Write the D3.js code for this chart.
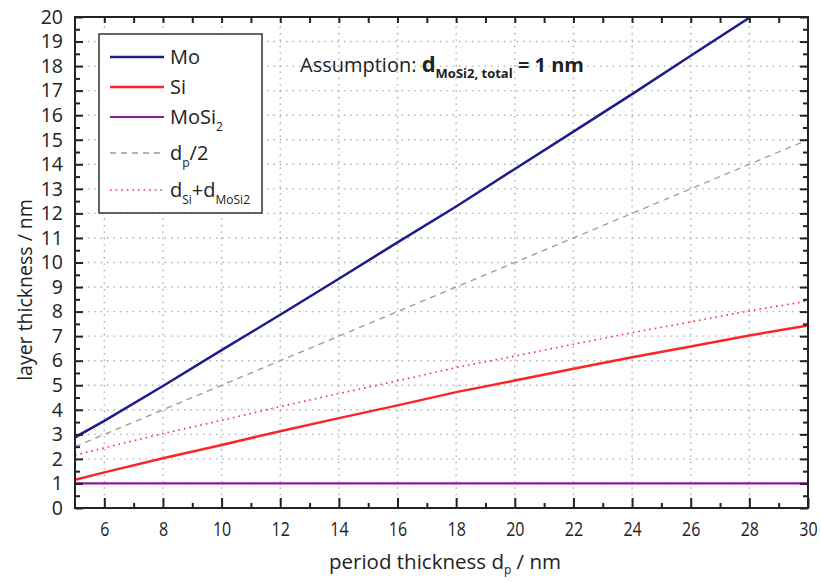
<!DOCTYPE html>
<html>
<head>
<meta charset="utf-8">
<script src="https://cdn.jsdelivr.net/npm/d3@7"></script>
<style>
  body { margin: 0; background: #fff; }
  svg text { font-family: "Open Sans", "Noto Sans", sans-serif; fill: #222; }
</style>
</head>
<body>
<svg id="chart" width="821" height="582"></svg>
<script>
// values: [period thickness, layer thickness]
var moValues = [[5, 2.88], [6, 3.55], [8, 4.97], [10, 6.43], [12, 7.87], [14, 9.34], [16, 10.82],
  [18, 12.28], [20, 13.81], [22, 15.33], [24, 16.86], [26, 18.42], [28, 19.97], [30, 21.57]];
var siValues = [[5, 1.15], [6, 1.45], [8, 2.03], [10, 2.57], [12, 3.13], [14, 3.66], [16, 4.18],
  [18, 4.72], [20, 5.19], [22, 5.67], [24, 6.14], [26, 6.58], [28, 7.03], [30, 7.43]];
var mosi2Values = [[5, 1.0], [30, 1.0]];
var halfPeriod = [[5, 2.5], [30, 15.0]];
var siPlusMosi2 = [[5, 2.15], [6, 2.45], [8, 3.03], [10, 3.57], [12, 4.13], [14, 4.66], [16, 5.18],
  [18, 5.72], [20, 6.19], [22, 6.67], [24, 7.14], [26, 7.58], [28, 8.03], [30, 8.43]];

var xTicks = [6, 8, 10, 12, 14, 16, 18, 20, 22, 24, 26, 28, 30];
var yTicks = d3.range(0, 21);

var series = [
  {name: "Mo", values: moValues, color: "#1c1c8a", width: 2.5, dash: null},
  {name: "Si", values: siValues, color: "#ff2424", width: 2.5, dash: null},
  {name: "MoSi2", values: mosi2Values, color: "#8c1c9c", width: 2.2, dash: null},
  {name: "dp/2", values: halfPeriod, color: "#9a9a9a", width: 1.3, dash: "6,5"},
  {name: "dSi+dMoSi2", values: siPlusMosi2, color: "#ff3030", width: 1.6, dash: "1.6,4"}
];

var svg = d3.select("#chart");
var m = {left: 75, right: 13, top: 17, bottom: 74};
var W = 821, H = 582;

var x = d3.scaleLinear().domain([5, 30]).range([m.left, W - m.right]);
var y = d3.scaleLinear().domain([0, 20]).range([H - m.bottom, m.top]);

svg.append("defs").append("clipPath").attr("id", "clip")
  .append("rect").attr("x", m.left).attr("y", m.top)
  .attr("width", x(30) - x(5)).attr("height", y(0) - y(20));

// grid
var grid = svg.append("g").attr("stroke", "#a8a8a8").attr("stroke-width", 1.4).attr("stroke-dasharray", "1.4,5");
grid.selectAll(".gx").data(xTicks.filter(function(d) { return d < 30; })).enter().append("line")
  .attr("x1", function(d) { return x(d); }).attr("x2", function(d) { return x(d); })
  .attr("y1", y(0)).attr("y2", y(20));
grid.selectAll(".gy").data(yTicks.filter(function(d) { return d > 0 && d < 20; })).enter().append("line")
  .attr("x1", x(5)).attr("x2", x(30))
  .attr("y1", function(d) { return y(d); }).attr("y2", function(d) { return y(d); });

// lines
var line = d3.line().x(function(d) { return x(d[0]); }).y(function(d) { return y(d[1]); });
var plot = svg.append("g").attr("clip-path", "url(#clip)");
series.forEach(function(s) {
  plot.append("path").attr("d", line(s.values)).attr("fill", "none")
    .attr("stroke", s.color).attr("stroke-width", s.width)
    .attr("stroke-dasharray", s.dash);
});

// axes, ticks inward on all sides
var xMinor = d3.range(6, 30);
var yMinor = d3.range(0.5, 20, 1);
var bottom = svg.append("g").attr("transform", "translate(0," + y(0) + ")")
  .call(d3.axisBottom(x).tickValues(xTicks).tickSize(-10).tickPadding(14).tickFormat(d3.format("d")));
svg.append("g").attr("transform", "translate(0," + y(0) + ")")
  .call(d3.axisBottom(x).tickValues(xMinor.filter(function(d) { return d % 2; })).tickSize(-5).tickFormat(""));
svg.append("g").attr("transform", "translate(0," + y(20) + ")")
  .call(d3.axisTop(x).tickValues(xMinor).tickSize(-6).tickFormat(""));
var left = svg.append("g").attr("transform", "translate(" + x(5) + ",0)")
  .call(d3.axisLeft(y).tickValues(yTicks).tickSize(-8).tickPadding(12).tickFormat(d3.format("d")));
svg.append("g").attr("transform", "translate(" + x(5) + ",0)")
  .call(d3.axisLeft(y).tickValues(yMinor).tickSize(-5).tickFormat(""));
svg.append("g").attr("transform", "translate(" + x(30) + ",0)")
  .call(d3.axisRight(y).tickValues(yTicks).tickSize(-8).tickFormat(""));
svg.append("g").attr("transform", "translate(" + x(30) + ",0)")
  .call(d3.axisRight(y).tickValues(yMinor).tickSize(-5).tickFormat(""));
svg.selectAll(".domain").remove();
svg.selectAll(".tick line").attr("stroke", "#222").attr("stroke-width", 2);
bottom.selectAll("text").attr("font-size", 20).attr("fill", "#333").attr("transform", "scale(0.8,1)");
left.selectAll("text").attr("font-size", 19.5).attr("fill", "#333");

svg.append("rect").attr("x", x(5)).attr("y", y(20))
  .attr("width", x(30) - x(5)).attr("height", y(0) - y(20))
  .attr("fill", "none").attr("stroke", "#222").attr("stroke-width", 2);

// axis titles
svg.append("text").attr("x", 445).attr("y", 569).attr("text-anchor", "middle").attr("font-size", 20.5)
  .attr("fill", "#333")
  .html('period thickness d<tspan font-size="12" dy="5">p</tspan><tspan dy="-5"> / nm</tspan>');
svg.append("text").attr("transform", "translate(32,290) rotate(-90)")
  .attr("text-anchor", "middle").attr("font-size", 19.5).attr("fill", "#333").text("layer thickness / nm");

// legend
var legend = svg.append("g");
legend.append("rect").attr("x", 99).attr("y", 34).attr("width", 163).attr("height", 179)
  .attr("fill", "#fff").attr("stroke", "#333").attr("stroke-width", 1.5);
var legendY = [57, 87, 117, 153, 190];
var legendLabels = [
  'Mo',
  'Si',
  'MoSi<tspan font-size="12" dy="7">2</tspan>',
  'd<tspan font-size="12" dy="7">p</tspan><tspan dy="-7">/2</tspan>',
  'd<tspan font-size="12" dy="7">Si</tspan><tspan dy="-7">+d</tspan><tspan font-size="12" dy="7">MoSi2</tspan>'
];
series.forEach(function(s, i) {
  legend.append("line").attr("x1", 110).attr("x2", 164)
    .attr("y1", legendY[i]).attr("y2", legendY[i])
    .attr("stroke", s.color).attr("stroke-width", s.width).attr("stroke-dasharray", s.dash);
  legend.append("text").attr("x", 170).attr("y", legendY[i] + 7).attr("font-size", 20)
    .attr("fill", "#333").html(legendLabels[i]);
});

// annotation
svg.append("text").attr("x", 300).attr("y", 72).attr("font-size", 20).attr("fill", "#222")
  .html('Assumption: <tspan font-weight="bold" font-size="22">d</tspan><tspan font-weight="bold" font-size="13" dy="6">MoSi2, total</tspan><tspan font-weight="bold" dy="-6"> = 1 nm</tspan>');
</script>
</body>
</html>
